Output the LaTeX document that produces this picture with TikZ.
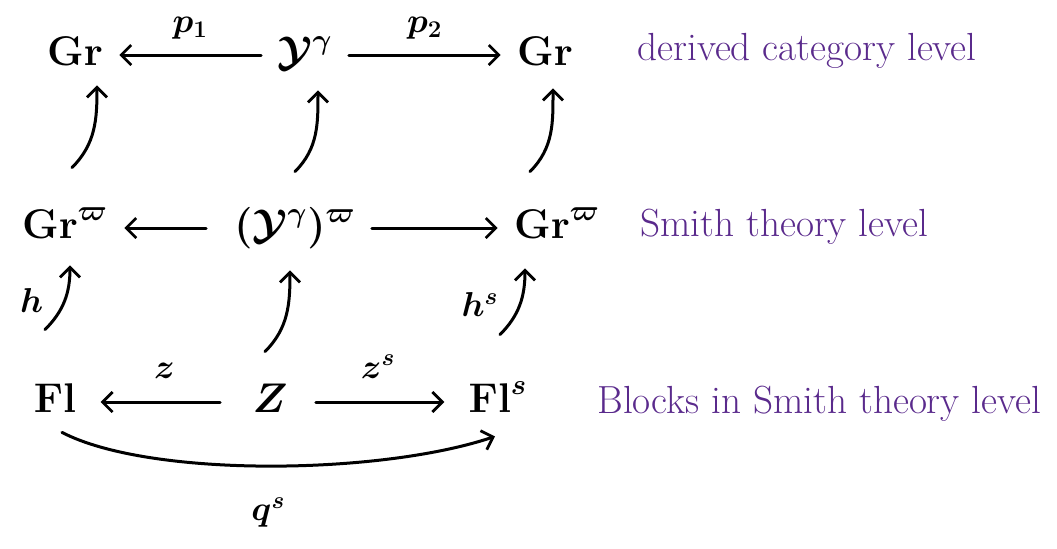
\documentclass[tikz,border=0pt]{standalone}
\usetikzlibrary{arrows.meta}
\definecolor{levelpurple}{RGB}{90,42,140}
\begin{document}
\begin{tikzpicture}[x=0.5pt,y=-0.5pt,
  obj/.style={inner sep=8pt, text height=14pt, text depth=4pt, anchor=base, font=\huge\boldmath},
  arr/.style={-{Straight Barb[length=5pt,width=10pt,line width=1.4pt]}, line width=1.5pt, line cap=round},
  lab/.style={font=\LARGE\boldmath, inner sep=1pt},
  levellab/.style={text=levelpurple, font=\fontsize{19.6}{23}\selectfont, anchor=base west, inner sep=0pt}]
\useasboundingbox (0,0) rectangle (1057,548);
% objects
\node[obj] (G1) at (75,65) {$\mathrm{Gr}$};
\node[obj] (Y)  at (305,65) {$\mathcal{Y}^{\gamma}$};
\node[obj] (G2) at (545,65) {$\mathrm{Gr}$};
\node[obj] (W1) at (65,238) {$\mathrm{Gr}^{\varpi}$};
\node[obj] (YW) at (295,238) {$(\mathcal{Y}^{\gamma})^{\varpi}$};
\node[obj] (W2) at (557,238) {$\mathrm{Gr}^{\varpi}$};
\node[obj] (F1) at (55,412) {$\mathrm{Fl}$};
\node[obj] (Z)  at (270,412) {$Z$};
\node[obj] (F2) at (498,412) {$\mathrm{Fl}^{s}$};
% level labels
\node[levellab] (L1) at (637,60) {derived category level};
\node[levellab] (L2) at (640,236) {Smith theory level};
\node[levellab] (L3) at (597,413) {Blocks in Smith theory level};
% horizontal arrows
\draw[arr] (Y) -- node[lab, above=6pt] {$p_1$} (G1);
\draw[arr] (Y) -- node[lab, above=6pt] {$p_2$} (G2);
\draw[arr, shorten <=6pt] (YW) -- (W1);
\draw[arr] (YW) -- (W2);
\draw[arr, shorten <=8pt, shorten >=4pt] (Z) -- node[lab, above=10pt] {$z$} (F1);
\draw[arr, shorten <=6pt, shorten >=4pt] (Z) -- node[lab, above=10pt] {$z^{s}$} (F2);
% vertical arrows (upper)
\draw[arr] ([shift={(7,-26)}]W1.north) to[out=45,in=-90] ([shift={(22,-4)}]G1.south);
\draw[arr] ([shift={(0,-22)}]YW.north) to[out=45,in=-90] ([shift={(13,1)}]Y.south);
\draw[arr] ([shift={(-27,-22)}]W2.north) to[out=45,in=-90] ([shift={(8,-1)}]G2.south);
% vertical arrows (lower)
\draw[arr] ([shift={(-10,-38)}]F1.north) to[out=45,in=-90] node[lab, left=9pt] {$h$} ([shift={(5,3)}]W1.south);
\draw[arr] ([shift={(-5,-16)}]Z.north) to[out=45,in=-90] ([shift={(-5,8)}]YW.south);
\draw[arr] ([shift={(2,-33)}]F2.north) to[out=45,in=-90] node[lab, left=9pt] {$h^{s}$} ([shift={(-32,6)}]W2.south);
% curved arrow
\draw[arr] ([shift={(7,-4)}]F1.south) .. controls (150,478) and (380,475) .. node[lab, below=14pt] {$q^{s}$} ([shift={(-3,0)}]F2.south);
\end{tikzpicture}
\end{document}
